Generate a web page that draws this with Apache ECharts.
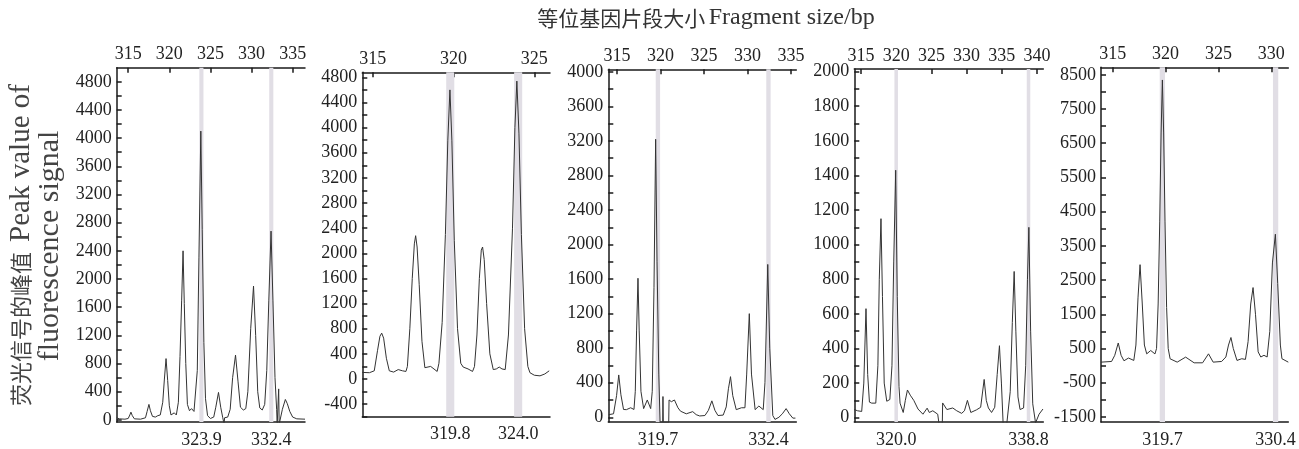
<!DOCTYPE html>
<html>
<head>
<meta charset="utf-8">
<script src="https://cdn.jsdelivr.net/npm/echarts@6/dist/echarts.min.js"></script>
<style>
  html, body { margin: 0; padding: 0; background: #ffffff; }
  #chart { width: 1299px; height: 449px; }
</style>
</head>
<body>
<div id="chart"></div>
<script>
// Capillary electrophoresis traces, one per sample: [fragment size (bp), fluorescence signal]
const traceA = [
  [313.6, 30], [313.9, 15], [314.6, 10], [315.0, 20], [315.2, 70], [315.33, 110], [315.5, 60], [315.75, 15],
  [316.5, 10], [317.1, 30], [317.3, 120], [317.52, 220], [317.7, 130], [317.95, 50], [318.3, 40], [318.6, 60],
  [318.9, 70], [319.2, 250], [319.4, 580], [319.6, 870], [319.8, 560], [320.0, 200], [320.2, 70], [320.4, 60],
  [320.6, 100], [320.85, 70], [321.1, 250], [321.3, 900], [321.5, 1700], [321.67, 2400], [321.82, 1650],
  [322.0, 800], [322.2, 220], [322.45, 130], [322.7, 160], [323.0, 120], [323.2, 130], [323.4, 700],
  [323.6, 2300], [323.83, 4100], [324.0, 2700], [324.2, 1100], [324.4, 300], [324.65, 60], [325.0, 20],
  [325.4, 40], [325.65, 180], [325.98, 390], [326.25, 180], [326.5, 30], [326.64, 20], [326.66, -60],
  [326.72, 30], [327.1, 40], [327.4, 150], [327.7, 600], [328.05, 920], [328.35, 550], [328.65, 180],
  [329.0, 140], [329.3, 160], [329.55, 400], [329.9, 1300], [330.24, 1900], [330.5, 1200], [330.75, 400],
  [331.0, 170], [331.3, 140], [331.6, 220], [331.85, 700], [332.1, 1700], [332.37, 2680], [332.6, 1700],
  [332.85, 600], [333.05, 150], [333.12, -60], [333.24, -60], [333.3, 440], [333.36, -60], [333.6, -60],
  [333.75, 150], [334.11, 290], [334.35, 230], [334.65, 120], [335.0, 40], [335.5, 15], [336.5, 10]
];
const traceB = [
  [314.36, 105], [314.8, 100], [315.1, 130], [315.3, 450], [315.45, 680], [315.56, 730], [315.68, 650],
  [315.85, 330], [316.03, 130], [316.3, 110], [316.58, 150], [316.85, 130], [317.06, 120], [317.15, 200],
  [317.3, 800], [317.45, 1600], [317.58, 2150], [317.66, 2280], [317.75, 2100], [317.88, 1500], [318.05, 600],
  [318.23, 180], [318.59, 200], [318.99, 120], [319.1, 250], [319.3, 900], [319.5, 2300], [319.65, 3800],
  [319.78, 4600], [319.9, 3800], [320.05, 2200], [320.25, 800], [320.45, 250], [320.6, 190], [320.9, 160],
  [321.18, 120], [321.3, 200], [321.45, 700], [321.6, 1600], [321.72, 2050], [321.8, 2100], [321.9, 1900],
  [322.05, 1200], [322.25, 400], [322.46, 150], [322.65, 160], [322.83, 190], [323.0, 160], [323.2, 150],
  [323.4, 700], [323.65, 2400], [323.8, 4000], [323.92, 4740], [324.05, 3900], [324.2, 2300], [324.4, 800],
  [324.6, 200], [324.73, 100], [325.0, 60], [325.35, 50], [325.65, 80], [325.92, 130]
];
const traceC = [
  [314.05, 30], [314.6, 40], [314.95, 250], [315.2, 490], [315.45, 260], [315.75, 90], [316.08, 88],
  [316.57, 110], [316.95, 90], [317.1, 300], [317.25, 1000], [317.41, 1610], [317.55, 1000], [317.75, 300],
  [318.06, 100], [318.48, 200], [318.87, 100], [319.05, 300], [319.25, 1500], [319.44, 3220], [319.6, 1800],
  [319.8, 500], [319.95, -60], [320.25, -60], [320.28, 240], [320.32, -60], [320.94, -60], [320.98, 200],
  [321.25, 180], [321.6, 200], [322.0, 110], [322.3, 70], [322.96, 40], [323.7, 65], [324.1, 30],
  [324.5, 15], [325.1, 20], [325.5, 80], [325.9, 190], [326.25, 80], [326.6, 20], [327.2, 25],
  [327.55, 120], [327.8, 330], [328.04, 470], [328.3, 250], [328.7, 88], [329.3, 110], [329.7, 110],
  [329.9, 500], [330.2, 1200], [330.45, 500], [330.87, 88], [331.3, 130], [331.8, 88], [332.0, 400],
  [332.32, 1770], [332.55, 800], [332.9, 20], [333.15, -25], [333.6, 0], [334.0, 40], [334.43, 100],
  [334.8, 40], [335.2, -10], [335.5, -10]
];
const traceD = [
  [314.05, 47], [314.5, 40], [315.1, 36], [315.4, 200], [315.71, 630], [315.95, 250], [316.2, 90],
  [316.52, 84], [317.1, 84], [317.4, 300], [317.6, 800], [317.84, 1150], [318.05, 700], [318.3, 200],
  [318.66, 95], [319.1, 105], [319.4, 300], [319.65, 900], [319.93, 1430], [320.15, 700], [320.4, 180],
  [320.55, 84], [321.0, 30], [321.3, 100], [321.6, 160], [322.0, 130], [322.5, 100], [323.1, 50],
  [323.8, 20], [324.4, 55], [324.7, 30], [325.2, 40], [325.9, 20], [326.1, -40], [326.55, -40],
  [326.6, 85], [327.2, 47], [328.04, 56], [328.6, 40], [329.3, 25], [329.7, 40], [330.12, 100],
  [330.6, 30], [331.4, 45], [332.0, 60], [332.5, 221], [332.8, 100], [333.1, 56], [333.55, 30],
  [334.0, 60], [334.35, 250], [334.67, 416], [334.95, 200], [335.2, -40], [335.7, -40], [336.2, 150],
  [336.5, 550], [336.76, 845], [337.0, 500], [337.3, 120], [337.6, 47], [338.1, 56], [338.4, 300],
  [338.65, 800], [338.85, 1100], [339.1, 500], [339.4, 80], [339.8, -30], [340.3, 20], [340.85, 50]
];
const traceE = [
  [313.9, 100], [314.9, 120], [315.2, 300], [315.53, 660], [315.8, 300], [316.07, 140], [316.5, 220],
  [317.0, 150], [317.2, 600], [317.4, 2000], [317.59, 2950], [317.8, 1800], [318.0, 600], [318.22, 343],
  [318.6, 440], [319.0, 340], [319.15, 500], [319.3, 1800], [319.45, 4200], [319.58, 6800], [319.7, 8350],
  [319.82, 6800], [319.95, 4200], [320.1, 1700], [320.25, 500], [320.43, 198], [321.1, 100], [321.9, 247],
  [322.7, 80], [323.5, 80], [324.06, 343], [324.5, 100], [325.3, 120], [325.7, 250], [325.95, 600],
  [326.18, 820], [326.4, 500], [326.75, 150], [327.2, 200], [327.55, 180], [327.8, 700], [328.05, 1800],
  [328.27, 2280], [328.5, 1500], [328.75, 400], [329.0, 250], [329.3, 300], [329.6, 250], [329.85, 1000],
  [330.1, 3000], [330.38, 3840], [330.6, 2400], [330.85, 600], [331.0, 200], [331.6, 100]
];

// Called allele sizes (bp), shaded and labelled under each trace
const allelesA = [323.9, 332.4];
const allelesB = [319.8, 324.0];
const allelesC = [319.7, 332.4];
const allelesD = [320.0, 338.8];
const allelesE = [319.7, 330.4];

// Fragment-size ticks on the top axes
const sizeTicksA = [315, 320, 325, 330, 335];
const sizeTicksB = [315, 320, 325];
const sizeTicksC = [315, 320, 325, 330, 335];
const sizeTicksD = [315, 320, 325, 330, 335, 340];
const sizeTicksE = [315, 320, 325, 330];

// Signal axis: tick marks and labelled values
const signalTicksA = [0, 200, 400, 600, 800, 1000, 1200, 1400, 1600, 1800, 2000, 2200, 2400, 2600, 2800, 3000, 3200, 3400, 3600, 3800, 4000, 4200, 4400, 4600, 4800];
const signalLabelsA = [0, 400, 800, 1200, 1600, 2000, 2400, 2800, 3200, 3600, 4000, 4400, 4800];
const signalTicksB = [-600, -400, -200, 0, 200, 400, 600, 800, 1000, 1200, 1400, 1600, 1800, 2000, 2200, 2400, 2600, 2800, 3000, 3200, 3400, 3600, 3800, 4000, 4200, 4400, 4600, 4800];
const signalLabelsB = [-400, 0, 400, 800, 1200, 1600, 2000, 2400, 2800, 3200, 3600, 4000, 4400, 4800];
const signalTicksC = [0, 200, 400, 600, 800, 1000, 1200, 1400, 1600, 1800, 2000, 2200, 2400, 2600, 2800, 3000, 3200, 3400, 3600, 3800, 4000];
const signalLabelsC = [0, 400, 800, 1200, 1600, 2000, 2400, 2800, 3200, 3600, 4000];
const signalTicksD = [0, 100, 200, 300, 400, 500, 600, 700, 800, 900, 1000, 1100, 1200, 1300, 1400, 1500, 1600, 1700, 1800, 1900, 2000];
const signalLabelsD = [0, 200, 400, 600, 800, 1000, 1200, 1400, 1600, 1800, 2000];
const signalTicksE = [-1500, -1000, -500, 0, 500, 1000, 1500, 2000, 2500, 3000, 3500, 4000, 4500, 5000, 5500, 6000, 6500, 7000, 7500, 8000, 8500];
const signalLabelsE = [-1500, -500, 500, 1500, 2500, 3500, 4500, 5500, 6500, 7500, 8500];

// Panel layout and axis extents
const panels = [
  { trace: traceA, alleles: allelesA, sizeTicks: sizeTicksA, signalTicks: signalTicksA, signalLabels: signalLabelsA,
    xMin: 313.6, xMax: 336.5, yMin: -30, yMax: 5000, box: { left: 116.7, top: 67.7, width: 188.3, height: 357.3 } },
  { trace: traceB, alleles: allelesB, sizeTicks: sizeTicksB, signalTicks: signalTicksB, signalLabels: signalLabelsB,
    xMin: 314.36, xMax: 325.97, yMin: -600, yMax: 4880, box: { left: 362.3, top: 72.3, width: 187.7, height: 344.4 } },
  { trace: traceC, alleles: allelesC, sizeTicks: sizeTicksC, signalTicks: signalTicksC, signalLabels: signalLabelsC,
    xMin: 314.0, xMax: 335.6, yMin: -55, yMax: 4030, box: { left: 608.3, top: 69.3, width: 188, height: 356.4 } },
  { trace: traceD, alleles: allelesD, sizeTicks: sizeTicksD, signalTicks: signalTicksD, signalLabels: signalLabelsD,
    xMin: 314.05, xMax: 340.9, yMin: -25, yMax: 2015, box: { left: 854.3, top: 69, width: 189, height: 356.7 } },
  { trace: traceE, alleles: allelesE, sizeTicks: sizeTicksE, signalTicks: signalTicksE, signalLabels: signalLabelsE,
    xMin: 313.9, xMax: 331.6, yMin: -1650, yMax: 8720, box: { left: 1101, top: 67.3, width: 187.3, height: 356 } }
];

const SERIF = '"Liberation Serif", "Times New Roman", serif';
const CJK = '"Noto Sans CJK SC", sans-serif';
const AXIS_COLOR = '#1a1a1a';
const LABEL_COLOR = '#222';
const BAND_HALF = 0.25;   // half width of an allele band, in bp

const axisLineStyle = { color: AXIS_COLOR, width: 1.5 };
const labelStyle = { color: LABEL_COLOR, fontFamily: SERIF, fontSize: 18 };
const plain = v => String(v);

const grid = [], xAxis = [], yAxis = [], series = [];

panels.forEach((p, i) => {
  grid.push(Object.assign({ containLabel: false }, p.box));

  // top: fragment size scale
  xAxis.push({
    gridIndex: i, type: 'value', position: 'top', min: p.xMin, max: p.xMax,
    axisLine: { show: true, onZero: false, lineStyle: axisLineStyle },
    axisTick: { show: true, inside: true, length: 5, customValues: p.sizeTicks, lineStyle: axisLineStyle },
    axisLabel: Object.assign({ customValues: p.sizeTicks, margin: 4, formatter: plain }, labelStyle),
    splitLine: { show: false }
  });
  // bottom: called allele sizes
  xAxis.push({
    gridIndex: i, type: 'value', position: 'bottom', min: p.xMin, max: p.xMax,
    axisLine: { show: true, onZero: false, lineStyle: axisLineStyle },
    axisTick: { show: false },
    axisLabel: Object.assign({ customValues: p.alleles, margin: 9, formatter: v => v.toFixed(1) }, labelStyle),
    splitLine: { show: false }
  });
  yAxis.push({
    gridIndex: i, type: 'value', min: p.yMin, max: p.yMax,
    axisLine: { show: true, onZero: false, lineStyle: axisLineStyle },
    axisTick: { show: true, inside: true, length: 5, customValues: p.signalTicks, lineStyle: axisLineStyle },
    axisLabel: Object.assign({ customValues: p.signalLabels, margin: 5, formatter: plain }, labelStyle),
    splitLine: { show: false }
  });

  // allele bands behind the trace
  series.push({
    type: 'line', xAxisIndex: i * 2 + 1, yAxisIndex: i, data: [], z: 1, silent: true,
    markArea: {
      silent: true,
      itemStyle: { color: '#e1dee5' },
      data: p.alleles.map(v => [{ xAxis: v - BAND_HALF }, { xAxis: v + BAND_HALF }])
    }
  });
  // signal trace
  series.push({
    type: 'line', xAxisIndex: i * 2 + 1, yAxisIndex: i, data: p.trace, z: 3,
    showSymbol: false, symbol: 'none', clip: true,
    lineStyle: { color: '#333', width: 1 }
  });
});

const chart = echarts.init(document.getElementById('chart'), null, { renderer: 'canvas' });
chart.setOption({
  animation: false,
  backgroundColor: '#ffffff',
  grid, xAxis, yAxis, series,
  graphic: [
    {
      type: 'text', x: 706, y: 18,
      style: {
        text: '{c|等位基因片段大小} {l|Fragment size/bp}',
        align: 'center', verticalAlign: 'middle', fill: '#333',
        rich: {
          c: { fontFamily: CJK, fontSize: 21, fill: '#333' },
          l: { fontFamily: SERIF, fontSize: 24, fill: '#333' }
        }
      }
    },
    {
      type: 'text', x: 21, y: 245, rotation: Math.PI / 2,
      style: {
        text: '{c|荧光信号的峰值}{s| }{l|Peak value of}',
        align: 'center', verticalAlign: 'middle', fill: '#444',
        rich: {
          c: { fontFamily: CJK, fontSize: 22, fill: '#444' },
          s: { fontFamily: SERIF, fontSize: 29, width: 10 },
          l: { fontFamily: SERIF, fontSize: 29, fill: '#444' }
        }
      }
    },
    {
      type: 'text', x: 50, y: 246, rotation: Math.PI / 2,
      style: {
        text: 'fluorescence signal',
        align: 'center', verticalAlign: 'middle', fill: '#444',
        fontFamily: SERIF, fontSize: 30
      }
    }
  ]
});
</script>
</body>
</html>
